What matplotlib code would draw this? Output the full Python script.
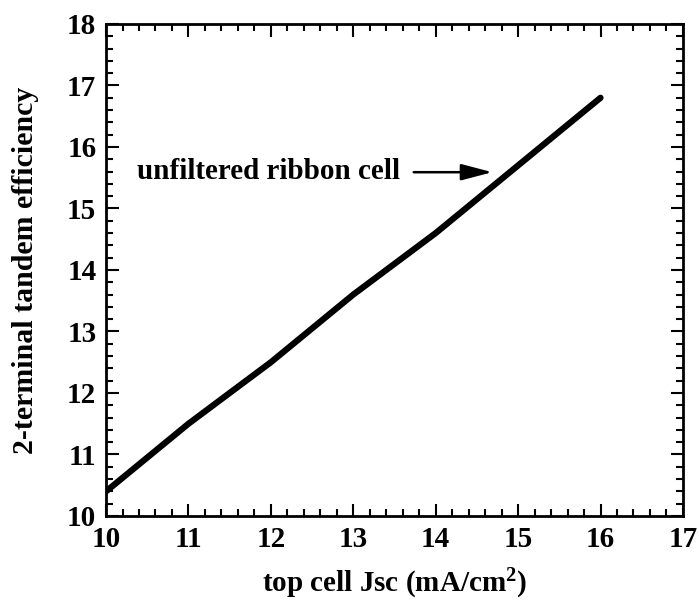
import numpy as np
import matplotlib
matplotlib.use("Agg")
import matplotlib.pyplot as plt
from matplotlib.ticker import MultipleLocator

# top cell Jsc vs 2-terminal tandem efficiency
jsc = [10, 11, 12, 13, 14, 15, 16]
eff = [10.4, 11.5, 12.5, 13.6, 14.6, 15.7, 16.8]

plt.rcParams['font.family'] = ['Liberation Serif', 'DejaVu Serif']
plt.rcParams['font.weight'] = 'bold'
plt.rcParams['mathtext.fontset'] = 'custom'
plt.rcParams['mathtext.rm'] = 'Liberation Serif:bold'
plt.rcParams['mathtext.bf'] = 'Liberation Serif:bold'
plt.rcParams['mathtext.it'] = 'Liberation Serif:bold'

fig = plt.figure(figsize=(6.99, 6.04), dpi=100)
ax = fig.add_axes([0.1517, 0.1457, 0.8253, 0.8146])

ax.plot(jsc, eff, color='black', lw=4.5, solid_capstyle='round', solid_joinstyle='round')

ax.set_xlim(10, 17)
ax.set_ylim(10, 18)
ax.xaxis.set_major_locator(MultipleLocator(1))
ax.xaxis.set_minor_locator(MultipleLocator(0.2))
ax.yaxis.set_major_locator(MultipleLocator(1))
ax.yaxis.set_minor_locator(MultipleLocator(0.2))
ax.tick_params(which='both', direction='in', top=True, right=True, width=1.5)
ax.tick_params(which='major', length=9, labelsize=21, pad=7)
ax.tick_params(which='minor', length=5)
for lab in ax.get_xticklabels() + ax.get_yticklabels():
    lab.set_fontweight('bold')
for s in ax.spines.values():
    s.set_linewidth(2)

ax.set_xlabel('top cell Jsc (mA/cm$^{2}$)', fontsize=21, fontweight='bold', labelpad=10)
ax.set_ylabel('2-terminal tandem efficiency', fontsize=21.5, fontweight='bold', labelpad=20)

ax.annotate('', xy=(14.72, 15.59), xytext=(13.7, 15.59),
            arrowprops=dict(arrowstyle='-|>,head_length=1.9,head_width=0.5', color='black', lw=1.8))
ax.text(10.38, 15.6, 'unfiltered ribbon cell', fontsize=21, fontweight='bold', va='center', ha='left')

fig.savefig('out.png', dpi=100)
